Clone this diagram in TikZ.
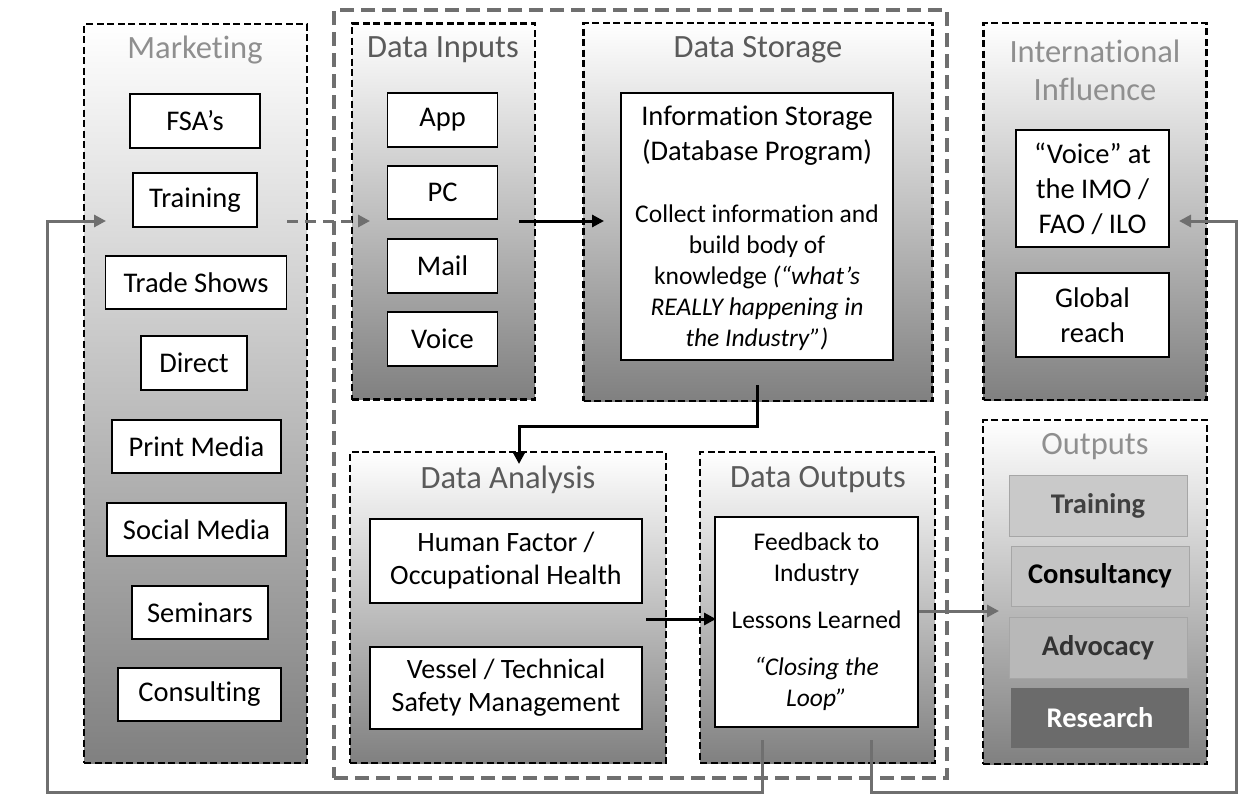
\documentclass[tikz,border=0pt]{standalone}
\usepackage{fontspec}
\setmainfont{Carlito}[Ligatures=NoCommon]
\usetikzlibrary{arrows.meta}
\definecolor{titlelight}{HTML}{8F8F8F}
\definecolor{titledark}{HTML}{5A5A5A}
\definecolor{linegray}{HTML}{6F6F6F}
\definecolor{shadebot}{HTML}{808080}
\tikzset{
  cont/.style={draw=black, line width=2.8pt, dash pattern=on 7pt off 3.5pt, top color=white, bottom color=shadebot, inner sep=0pt},
  bigcont/.style={draw=linegray, line width=3.5pt, dash pattern=on 14pt off 7pt, inner sep=0pt},
  box/.style={draw=black, line width=1.3pt, fill=white, align=center, inner sep=0pt, font=\fontsize{28.5}{34}\selectfont},
  ttl/.style={align=center, inner sep=0pt, font=\fontsize{32.5}{38}\selectfont},
  outbox/.style={draw=black!35, line width=0.8pt, align=center, inner sep=0pt, font=\fontsize{28.5}{34}\selectfont\bfseries},
  garr/.style={draw=linegray, line width=3pt, -{Triangle[length=12pt,width=12pt]}},
  barr/.style={draw=black, line width=3pt, -{Triangle[length=12pt,width=12pt]}},
}
\begin{document}
\begin{tikzpicture}[x=1pt,y=-1pt]
\useasboundingbox (0,0) rectangle (1257,803);
% big grey dashed container
\node[bigcont, minimum width=613pt, minimum height=768pt] (core) at (640.5,394) {};
% containers
\node[cont, minimum width=223pt, minimum height=739pt] (mkt) at (195.5,393.5) {};
\node[cont, minimum width=183pt, minimum height=376pt] (inp) at (443.5,211.5) {};
\node[cont, minimum width=349pt, minimum height=378pt] (sto) at (758,212) {};
\node[cont, minimum width=316pt, minimum height=311pt] (ana) at (508,607.5) {};
\node[cont, minimum width=235pt, minimum height=311pt] (dout) at (817.5,607.5) {};
\node[cont, minimum width=223pt, minimum height=377pt] (intl) at (1095,211.5) {};
\node[cont, minimum width=224pt, minimum height=344pt] (outs) at (1095,592) {};
% titles
\node[ttl, text=titlelight] (tmkt) at (195,50) {Marketing};
\node[ttl, text=titledark] (tinp) at (443,50) {Data Inputs};
\node[ttl, text=titledark] (tsto) at (758,50) {Data Storage};
\node[ttl, text=titledark] (tana) at (508,480) {Data Analysis};
\node[ttl, text=titledark] (tdout) at (818,480) {Data Outputs};
\node[ttl, text=titlelight] (tintl) at (1095,70) {International\\Influence};
\node[ttl, text=titlelight] (touts) at (1095,447) {Outputs};
% marketing boxes
\node[box, minimum width=130pt, minimum height=54pt] (fsa) at (195,121) {FSA’s};
\node[box, minimum width=124pt, minimum height=54pt] (trn) at (195,200) {Training};
\node[box, minimum width=181pt, minimum height=53pt] (trade) at (196,282.5) {Trade Shows};
\node[box, minimum width=106pt, minimum height=54pt] (direct) at (194,363) {Direct};
\node[box, minimum width=169pt, minimum height=53pt] (print) at (196.5,446.5) {Print Media};
\node[box, minimum width=179pt, minimum height=53pt] (social) at (196.5,529.5) {Social Media};
\node[box, minimum width=136pt, minimum height=53pt] (sem) at (200,612.5) {Seminars};
\node[box, minimum width=163pt, minimum height=53pt] (cons) at (199.5,694.5) {Consulting};
% data inputs
\node[box, minimum width=110pt, minimum height=54pt] (app) at (442.5,120) {App};
\node[box, minimum width=110pt, minimum height=53pt] (pc) at (442.5,192.5) {PC};
\node[box, minimum width=110pt, minimum height=54pt] (mail) at (442.5,266) {Mail};
\node[box, minimum width=110pt, minimum height=54pt] (voice) at (442.5,339) {Voice};
% data storage
\node[box, minimum width=272pt, minimum height=267pt] (info) at (757,226.5) {};
\node[align=center, inner sep=0pt, font=\fontsize{28.5}{35}\selectfont] (infoA) at (757,135.5) {Information Storage\\(Database Program)};
\node[align=center, inner sep=0pt, font=\fontsize{25.5}{31}\selectfont] (infoB) at (757,278) {Collect information and\\build body of\\knowledge \textit{(“what’s}\\\textit{REALLY happening in}\\\textit{the Industry”)}};
% data analysis
\node[box, minimum width=272pt, minimum height=84pt, font=\fontsize{28}{33}\selectfont] (hf) at (506,561) {Human Factor /\\Occupational Health};
\node[box, minimum width=272pt, minimum height=82pt, font=\fontsize{28}{33}\selectfont] (ves) at (506,688) {Vessel / Technical\\Safety Management};
% data outputs
\node[box, minimum width=203pt, minimum height=210pt, font=\fontsize{25.5}{31}\selectfont] (fb) at (816.5,622) {Feedback to\\Industry\\[16pt]Lessons Learned\\[16pt]\textit{“Closing the}\\\textit{Loop”}};
% international influence
\node[box, minimum width=153pt, minimum height=117pt, font=\fontsize{28.5}{35}\selectfont] (imo) at (1092.5,188.5) {“Voice” at\\the IMO /\\FAO / ILO};
\node[box, minimum width=153pt, minimum height=84pt, font=\fontsize{28.5}{35}\selectfont] (glob) at (1092.5,315) {Global\\reach};
% outputs
\node[outbox, fill=black!21, text=black!75, minimum width=178pt, minimum height=61pt] (otrn) at (1098,505.5) {Training};
\node[outbox, fill=black!23, text=black, minimum width=178pt, minimum height=60pt] (ocons) at (1100,576) {Consultancy};
\node[outbox, fill=black!28, text=black!80, minimum width=178pt, minimum height=61pt] (oadv) at (1098,647.5) {Advocacy};
\node[outbox, draw=none, fill=black!58, text=white, minimum width=178pt, minimum height=60pt] (ores) at (1100,718) {Research};
% connector end points
\coordinate (doL) at (762,740);
\coordinate (mktIn) at (106,221);
\coordinate (doR) at (871,740);
\coordinate (intIn) at (1179,221);
\coordinate (mktOut) at (287,221);
\coordinate (inpIn) at (370,221);
\coordinate (inpOut) at (519,221);
\coordinate (stoIn) at (604,221);
\coordinate (stoOut) at (757,385);
\coordinate (anaIn) at (519,464);
\coordinate (anaOut) at (646,619);
\coordinate (doutIn) at (716,619);
\coordinate (doutOut) at (919,611);
\coordinate (outsIn) at (999,611);
% connectors
\draw[garr] (doL) -- ++(0,52) -| ([xshift=-59pt]mktIn) -- (mktIn);
\draw[garr] (doR) -- ++(0,52) -| ([xshift=57pt]intIn) -- (intIn);
\draw[garr, dash pattern=on 11pt off 7pt] (mktOut) -- (inpIn);
\draw[barr] (inpOut) -- (stoIn);
\draw[barr] (stoOut) -- ++(0,41) -| (anaIn);
\draw[barr] (anaOut) -- (doutIn);
\draw[garr] (doutOut) -- (outsIn);
\end{tikzpicture}
\end{document}
